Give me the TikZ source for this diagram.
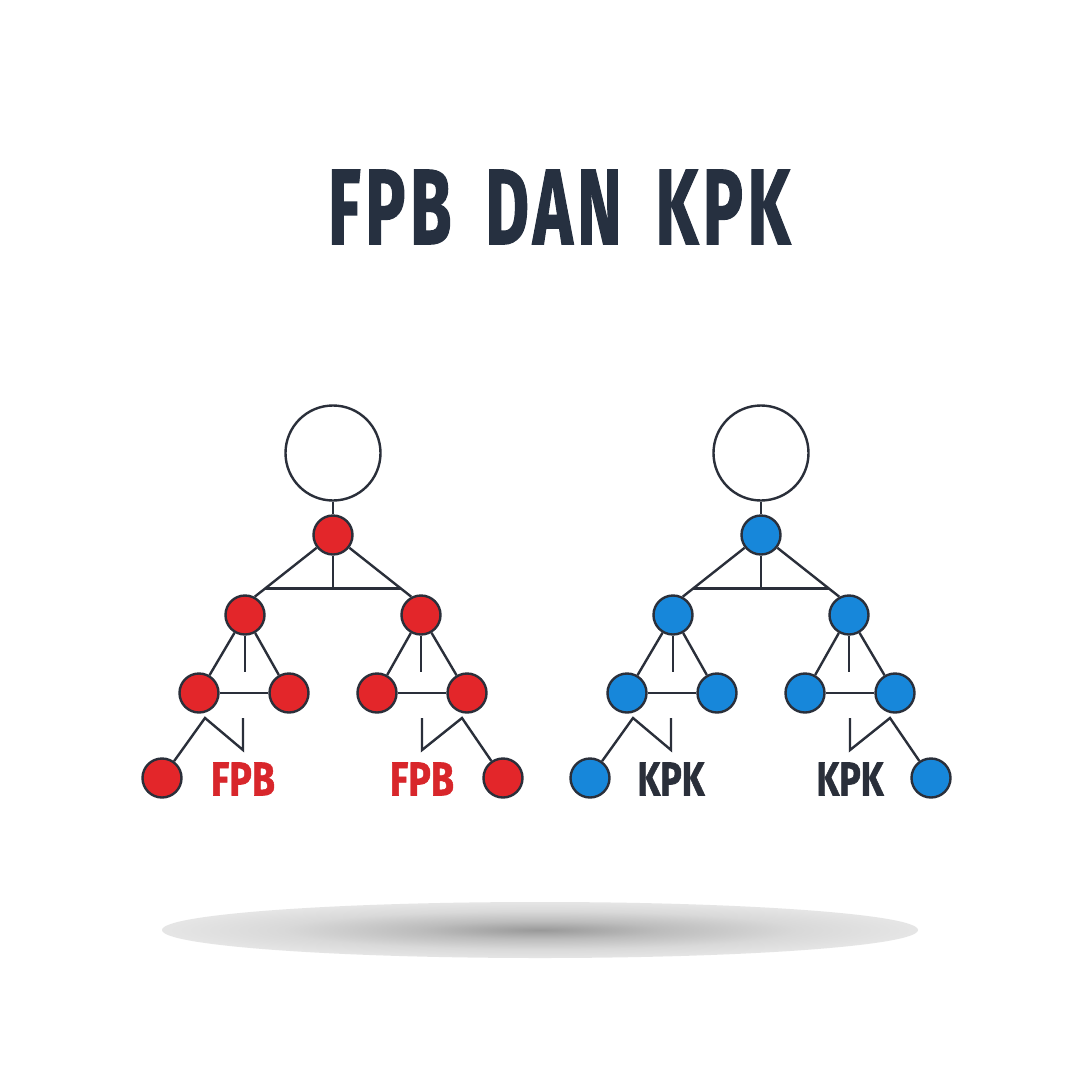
\documentclass[tikz,border=0pt]{standalone}
\usepackage{fontspec}
\usetikzlibrary{calc}
\newfontfamily\headfont[FakeBold=1.2]{Fira Sans}
\newfontfamily\titlefont[LetterSpace=7,FakeBold=1.6]{Fira Sans}

\definecolor{ink}{HTML}{2A2F3A}
\definecolor{titleink}{HTML}{263040}
\definecolor{nodered}{HTML}{E3262A}
\definecolor{nodeblue}{HTML}{1787DA}
\definecolor{labelred}{HTML}{D8262B}

% soft floor shadow under the two trees (path box spans -25bp..25bp)
\pgfdeclareradialshading{floorshadow}{\pgfpoint{0bp}{0bp}}{%
  color(0bp)=(black!40); color(8bp)=(black!26); color(17bp)=(black!15); color(25bp)=(black!10); color(50bp)=(black!10)}

\tikzset{
  link/.style={draw=ink, line width=2.4pt},
  ball/.style={circle, draw=ink, line width=2.4pt, minimum size=39pt, inner sep=0pt},
  bigball/.style={circle, draw=ink, line width=2.4pt, minimum size=95pt, inner sep=0pt, fill=white},
  tag/.style={inner sep=0pt, font=\headfont\bfseries},
}

% #1 name prefix, #2 root x, #3 fill colour, #4 label, #5 label colour, #6 label width
\newcommand\familytree[6]{%
\begin{scope}[shift={(#2,0)}]
  \node[bigball] (#1big) at (0,453) {};
  \node[ball, fill=#3] (#1root) at (0,535) {};
  \node[ball, fill=#3] (#1l) at (-88,615) {};
  \node[ball, fill=#3] (#1r) at (88,615) {};
  \node[ball, fill=#3] (#1ll) at (-134,693) {};
  \node[ball, fill=#3] (#1lr) at (-44,693) {};
  \node[ball, fill=#3] (#1rl) at (44,693) {};
  \node[ball, fill=#3] (#1rr) at (134,693) {};
  \node[ball, fill=#3] (#1leafl) at (-171,778) {};
  \node[ball, fill=#3] (#1leafr) at (170,778) {};
  \node[tag, text=#5] (#1tagl) at (-90,779) {\resizebox{#6pt}{33pt}{#4}};
  \node[tag, text=#5] (#1tagr) at (89,779) {\resizebox{#6pt}{33pt}{#4}};
  % free ends of the open strokes
  \coordinate (#1lstub) at (-88,672);
  \coordinate (#1rstub) at (88,672);
  \coordinate (#1vl) at (-128,718);
  \coordinate (#1sl) at (-90,750);
  \coordinate (#1tl) at (-90,718);
  \coordinate (#1vr) at (129,718);
  \coordinate (#1sr) at (89,750);
  \coordinate (#1tr) at (89,718);
  % connectors
  \draw[link] (#1big) -- (#1root);
  \draw[link] (#1root.218) -- coordinate[pos=0.83] (#1barl) (#1l.62);
  \draw[link] (#1root.-38) -- coordinate[pos=0.83] (#1barr) (#1r.118);
  \draw[link] (#1barl) -- (#1barr);
  \draw[link] (#1root) -- (#1root |- #1barl);
  \draw[link] (#1l) -- (#1ll);
  \draw[link] (#1l) -- (#1lr);
  \draw[link] (#1l) -- (#1lstub);
  \draw[link] (#1ll) -- (#1lr);
  \draw[link] (#1r) -- (#1rl);
  \draw[link] (#1r) -- (#1rr);
  \draw[link] (#1r) -- (#1rstub);
  \draw[link] (#1rl) -- (#1rr);
  \draw[link] (#1leafl) -- (#1vl) -- (#1sl) -- (#1tl);
  \draw[link] (#1leafr) -- (#1vr) -- (#1sr) -- (#1tr);
\end{scope}}

\begin{document}
\begin{tikzpicture}[x=1pt, y=-1pt]
  \fill[white] (0,0) rectangle (1080,1080);
  \useasboundingbox (0,0) rectangle (1080,1080);

  \shade[shading=floorshadow] (540,930) ellipse [x radius=378pt, y radius=28pt];

  \node[inner sep=0pt, text=titleink] (title) at (559,207)
    {\resizebox{462pt}{74pt}{\titlefont\bfseries FPB\hspace{0.2em} DAN\hspace{0.2em} KPK}};

  \familytree{a}{333}{nodered}{FPB}{labelred}{64}
  \familytree{b}{761}{nodeblue}{KPK}{ink}{67}
\end{tikzpicture}
\end{document}
